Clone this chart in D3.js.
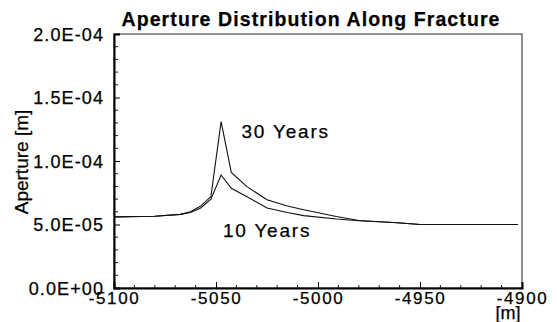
<!DOCTYPE html>
<html><head><meta charset="utf-8">
<script src="https://cdn.jsdelivr.net/npm/d3@7"></script>
<style>
html,body{margin:0;padding:0;background:#fff;}
svg{display:block;font-family:Arial,"Liberation Sans",sans-serif;}
text{stroke:#000;stroke-width:0.25px;}
</style></head>
<body>
<svg id="chart" width="557" height="322"></svg>
<script>
// ---- data ----
const title = "Aperture Distribution Along Fracture";
const yLabel = "Aperture [m]";
const xUnit = "[m]";
const xTicks = [-5100, -5050, -5000, -4950, -4900];
const yTicks = [0, 5e-5, 1e-4, 1.5e-4, 2e-4];
const yTickLabels = ["0.0E+00", "5.0E-05", "1.0E-04", "1.5E-04", "2.0E-04"];
const x30 = [-5100, -5080, -5067.5, -5062.5, -5057.5, -5052.5, -5047.5, -5042.5, -5035, -5025, -5015, -5007, -4991, -4980, -4961, -4950, -4902];
const y30 = [5.6e-5, 5.65e-5, 5.8e-5, 6.0e-5, 6.45e-5, 7.2e-5, 1.31e-4, 9.1e-5, 8.0e-5, 6.95e-5, 6.45e-5, 6.16e-5, 5.63e-5, 5.32e-5, 5.14e-5, 5.0e-5, 5.0e-5];
const x10 = [-5100, -5080, -5067.5, -5062.5, -5057.5, -5052.5, -5047.5, -5042.5, -5035, -5025, -5015, -5007, -4991, -4980, -4961, -4950, -4902];
const y10 = [5.6e-5, 5.65e-5, 5.8e-5, 5.95e-5, 6.3e-5, 7.0e-5, 8.9e-5, 7.85e-5, 7.2e-5, 6.3e-5, 5.95e-5, 5.7e-5, 5.43e-5, 5.3e-5, 5.14e-5, 5.0e-5, 5.0e-5];
const seriesLabels = ["30 Years", "10 Years"];

// ---- layout ----
const L = 114, R = 522, T = 34, B = 288;
const svg = d3.select("#chart");
const x = d3.scaleLinear().domain([-5100, -4900]).range([L, R]);
const y = d3.scaleLinear().domain([0, 2e-4]).range([B, T]);

// frame (top/right thin)
svg.append("rect").attr("x", L).attr("y", T).attr("width", R - L).attr("height", B - T)
  .attr("fill", "none").attr("stroke", "#222").attr("stroke-width", 1);

// minor ticks
const xMinor = d3.range(-5100, -4900, 10).filter(v => v % 50 !== 0);
const yMinor = d3.range(0, 2e-4, 1e-5).filter((v, i) => i % 5 !== 0);
svg.append("g").selectAll("line").data(xMinor).join("line")
  .attr("x1", d => x(d)).attr("x2", d => x(d)).attr("y1", B).attr("y2", B - 3)
  .attr("stroke", "#222").attr("stroke-width", 1);
svg.append("g").selectAll("line").data(yMinor).join("line")
  .attr("x1", L).attr("x2", L + 4).attr("y1", d => y(d)).attr("y2", d => y(d))
  .attr("stroke", "#222").attr("stroke-width", 1);

// axes (major ticks inward)
const xAxis = d3.axisBottom(x).tickValues(xTicks).tickSize(-6).tickFormat(d3.format("d"));
const gx = svg.append("g").attr("transform", `translate(0,${B})`).call(xAxis);
gx.select(".domain").attr("stroke", "#000").attr("stroke-width", 2);
gx.selectAll(".tick line").attr("stroke", "#000").attr("stroke-width", 1);
gx.selectAll(".tick text").attr("y", 0).attr("dy", "16px")
  .attr("font-size", "17px").attr("font-family", "Arial, Liberation Sans, sans-serif")
  .attr("letter-spacing", "1.6px").attr("fill", "#000")
  .text(d => d3.format("d")(d).replace("\u2212", "-"));

const yAxis = d3.axisLeft(y).tickValues(yTicks).tickSize(-6).tickFormat((d, i) => yTickLabels[i]);
const gy = svg.append("g").attr("transform", `translate(${L},0)`).call(yAxis);
gy.select(".domain").attr("stroke", "#000").attr("stroke-width", 2);
gy.selectAll(".tick line").attr("stroke", "#000").attr("stroke-width", 1);
gy.selectAll(".tick text").attr("x", -10).attr("dy", "0.36em")
  .attr("font-size", "18px").attr("font-family", "Arial, Liberation Sans, sans-serif")
  .attr("letter-spacing", "1.1px").attr("fill", "#000");

// lines
const line = d3.line().x(d => x(d[0])).y(d => y(d[1]));
svg.append("path").datum(x30.map((v, i) => [v, y30[i]])).attr("d", line)
  .attr("fill", "none").attr("stroke", "#111").attr("stroke-width", 1.1);
svg.append("path").datum(x10.map((v, i) => [v, y10[i]])).attr("d", line)
  .attr("fill", "none").attr("stroke", "#111").attr("stroke-width", 1.1);

// annotations
svg.append("text").attr("x", x(-5037.5)).attr("y", y(1.185e-4)).attr("font-size", "19px")
  .attr("letter-spacing", "1.8px").attr("fill", "#000").text(seriesLabels[0]);
svg.append("text").attr("x", x(-5046.6)).attr("y", y(6.4e-5))
  .attr("font-size", "19px").attr("letter-spacing", "1.8px").attr("fill", "#000")
  .attr("transform", `translate(0,${237 - y(6.4e-5)})`).text(seriesLabels[1]);

// title
svg.append("text").attr("x", 311).attr("y", 26).attr("text-anchor", "middle")
  .attr("font-size", "19.5px").attr("font-weight", "bold").attr("letter-spacing", "1.1px")
  .attr("fill", "#000").text(title);

// y label
svg.append("text").attr("transform", `translate(28,162) rotate(-90)`).attr("text-anchor", "middle")
  .attr("font-size", "19px").attr("fill", "#000").text(yLabel);

// x unit
svg.append("text").attr("x", x(-4900) - 14).attr("y", 319).attr("text-anchor", "middle")
  .attr("font-size", "18px").attr("fill", "#000").text(xUnit);
</script>
</body></html>
